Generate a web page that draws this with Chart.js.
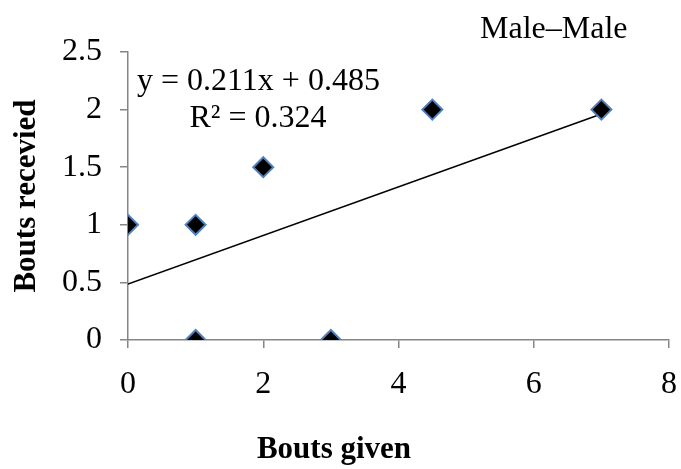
<!DOCTYPE html>
<html>
<head>
<meta charset="utf-8">
<script src="https://cdn.jsdelivr.net/npm/chart.js@4/dist/chart.umd.min.js"></script>
<style>
  html, body { margin: 0; padding: 0; background: #fff; }
  #wrap { width: 681px; height: 469px; }
</style>
</head>
<body>
<div id="wrap"><canvas id="scatter-chart" width="681" height="469"></canvas></div>
<script>
const boutsGiven = [0, 1, 1, 2, 3, 4.5, 7];
const boutsReceived = [1, 1, 0, 1.5, 0, 2, 2];
const trendX = [0, 7];
const slope = 0.211;
const intercept = 0.485;
const equationText = "y = 0.211x + 0.485";
const r2Text = "R² = 0.324";
const panelTitle = "Male–Male";
const xTitle = "Bouts given";
const yTitle = "Bouts recevied";

const serif = "'Liberation Serif', 'Times New Roman', serif";
const axisGray = "#868686";

// free text: panel title, trendline label, x axis title
const textPlugin = {
  id: "labels",
  afterDraw(chart) {
    const c = chart.ctx;
    c.save();
    c.fillStyle = "#000";
    c.textBaseline = "middle";
    c.font = "32px " + serif;
    c.textAlign = "left";
    c.fillText(panelTitle, 480, 30);
    c.fillText(equationText, 137, 82);
    c.textAlign = "center";
    c.fillText(r2Text, 258, 119);
    c.font = "bold 31px " + serif;
    c.fillText(xTitle, 334, 450);
    c.restore();
  },
};

const config = {
  type: "scatter",
  data: {
    datasets: [
      {
        label: "points",
        data: boutsGiven.map((x, i) => ({ x: x, y: boutsReceived[i] })),
        pointStyle: "rectRot",
        pointRadius: 10,
        pointBackgroundColor: "#000",
        pointBorderColor: "#4f81bd",
        pointBorderWidth: 2,
        order: 1,
      },
      {
        label: "trend",
        type: "line",
        data: trendX.map((x) => ({ x: x, y: slope * x + intercept })),
        borderColor: "#000",
        borderWidth: 1.5,
        pointRadius: 0,
        order: 2,
      },
    ],
  },
  options: {
    responsive: false,
    animation: false,
    layout: { padding: { top: 52, right: 7, left: 0, bottom: 0 } },
    plugins: {
      legend: { display: false },
      tooltip: { enabled: false },
    },
    scales: {
      x: {
        type: "linear",
        min: 0,
        max: 8,
        afterFit(scale) {
          scale.height = 129;
          scale.paddingLeft = 0;
          scale.paddingRight = 0;
        },
        ticks: {
          stepSize: 2,
          color: "#000",
          padding: 17,
          font: { family: serif, size: 32 },
          callback: (v) => String(v),
        },
        grid: { drawOnChartArea: false, drawTicks: true, tickLength: 8, color: axisGray, lineWidth: 1.5 },
        border: { color: axisGray, width: 1.5 },
      },
      y: {
        type: "linear",
        min: 0,
        max: 2.5,
        afterFit(scale) { scale.width = 128; },
        ticks: {
          stepSize: 0.5,
          color: "#000",
          padding: 18,
          font: { family: serif, size: 32 },
          callback: (v) => String(v),
        },
        grid: { drawOnChartArea: false, drawTicks: true, tickLength: 8, color: axisGray, lineWidth: 1.5 },
        border: { color: axisGray, width: 1.5 },
        title: {
          display: true,
          text: yTitle,
          color: "#000",
          padding: { top: 8, bottom: 0 },
          font: { family: serif, size: 31, weight: "bold" },
        },
      },
    },
  },
  plugins: [textPlugin],
};

const ctx = document.getElementById("scatter-chart").getContext("2d");
const scatterChart = new Chart(ctx, config);
</script>
</body>
</html>
